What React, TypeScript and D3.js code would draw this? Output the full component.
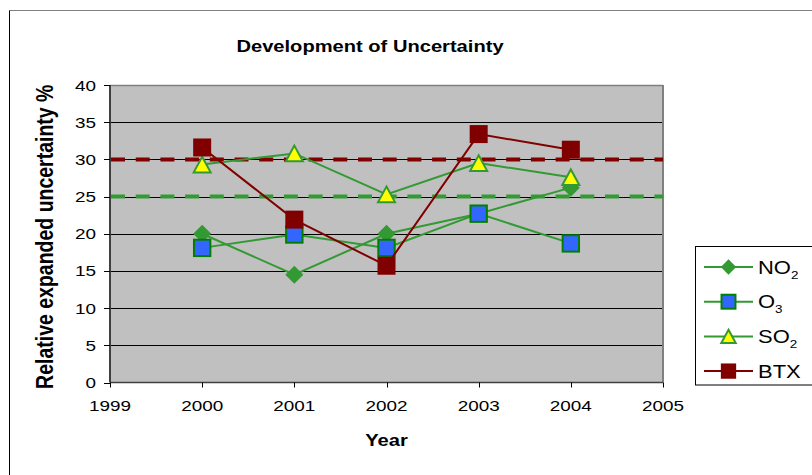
import React from "react";
import * as d3 from "d3";

const years = [2000, 2001, 2002, 2003, 2004];
const no2 = [20, 14.5, 20, 22.7, 26.2];
const o3 = [18.1, 19.9, 18.1, 22.7, 18.7];
const so2 = [29.3, 30.8, 25.3, 29.5, 27.6];
const btx = [31.6, 21.9, 15.7, 33.4, 31.3];
const limitBTX = 30;
const limitOther = 25;
const xTicks = [1999, 2000, 2001, 2002, 2003, 2004, 2005];
const yTicks = [0, 5, 10, 15, 20, 25, 30, 35, 40];

const GREEN = "#339933";
const DARKRED = "#800000";
const FONT = "'Liberation Sans', Arial, sans-serif";
const SX = 1.22;

type MarkerKind = "diamond" | "square" | "triangle" | "btx";

function Marker({ kind, x, y, s = 1 }: { kind: MarkerKind; x: number; y: number; s?: number }) {
  if (kind === "diamond") {
    const h = 9 * s;
    return <path d={`M${x},${y - h}L${x + h},${y}L${x},${y + h}L${x - h},${y}Z`} fill={GREEN} />;
  }
  if (kind === "square") {
    const h = 8.2 * s;
    return <rect x={x - h} y={y - h} width={2 * h} height={2 * h} fill="#3366FF" stroke="#008000" strokeWidth={2} />;
  }
  if (kind === "triangle") {
    const w = 8.5 * s;
    const hh = 7.8 * s;
    return (
      <path d={`M${x},${y - hh}L${x + w},${y + hh}L${x - w},${y + hh}Z`} fill="#FFFF00" stroke={GREEN} strokeWidth={2} strokeLinejoin="miter" />
    );
  }
  const h = 9 * s;
  return <rect x={x - h} y={y - h} width={2 * h} height={2 * h} fill={DARKRED} />;
}

function SText({ x, y, anchor = "start", size, bold = false, children }: any) {
  return (
    <text transform={`translate(${x},${y}) scale(${SX},1)`} textAnchor={anchor} fontSize={size} fontWeight={bold ? "bold" : "normal"}>
      {children}
    </text>
  );
}

const series = [
  { name: "NO", sub: "2", values: no2, color: GREEN, kind: "diamond" as MarkerKind },
  { name: "O", sub: "3", values: o3, color: GREEN, kind: "square" as MarkerKind },
  { name: "SO", sub: "2", values: so2, color: GREEN, kind: "triangle" as MarkerKind },
  { name: "BTX", sub: "", values: btx, color: DARKRED, kind: "btx" as MarkerKind },
];

export default function App() {
  const left = 110, right = 663, top = 85, bottom = 382.5;
  const x = d3.scaleLinear().domain([1999, 2005]).range([left, right]);
  const y = d3.scaleLinear().domain([0, 40]).range([bottom, top]);
  const line = d3.line<number>().x((_, i) => x(years[i])).y((v) => y(v));

  const legX = 695.5, legY = 246.5, rowH = 34.7, row0 = 267;

  return (
    <svg width={812} height={475} style={{ position: "absolute", left: 0, top: 0 }} fontFamily={FONT}>
      <rect x={0} y={0} width={812} height={475} fill="#fff" />
      {/* outer chart border */}
      <line x1={9.5} y1={10.5} x2={812} y2={10.5} stroke="#808080" strokeWidth={1} />
      <line x1={9.5} y1={10.5} x2={9.5} y2={475} stroke="#000" strokeWidth={1} />

      {/* title */}
      <SText x={370} y={52} anchor="middle" size={16.5} bold>Development of Uncertainty</SText>

      {/* plot area */}
      <rect x={left} y={top} width={right - left} height={bottom - top} fill="#C0C0C0" />
      {yTicks.filter((t) => t > 0 && t < 40).map((t) => (
        <line key={t} x1={left} x2={right} y1={Math.round(y(t)) + 0.5} y2={Math.round(y(t)) + 0.5} stroke="#000" strokeWidth={1} />
      ))}
      <line x1={left} x2={right} y1={top + 0.5} y2={top + 0.5} stroke="#808080" strokeWidth={1.5} />
      <line x1={right} x2={right} y1={top} y2={bottom} stroke="#808080" strokeWidth={2} />

      {/* limit lines */}
      <line x1={left + 1} x2={right} y1={y(limitBTX)} y2={y(limitBTX)} stroke={DARKRED} strokeWidth={4} strokeDasharray="14,10.7" />
      <line x1={left + 1} x2={right} y1={y(limitOther)} y2={y(limitOther)} stroke={GREEN} strokeWidth={4} strokeDasharray="14,10.7" />

      {/* axes */}
      <line x1={left} x2={left} y1={top} y2={bottom} stroke="#404040" strokeWidth={2} />
      <line x1={left} x2={right} y1={bottom} y2={bottom} stroke="#404040" strokeWidth={1.5} />
      {yTicks.map((t) => (
        <g key={t}>
          <line x1={left - 6} x2={left} y1={Math.round(y(t)) + 0.5} y2={Math.round(y(t)) + 0.5} stroke="#000" />
          <SText x={96} y={y(t) + 5.5} anchor="end" size={15.5}>{t}</SText>
        </g>
      ))}
      {xTicks.map((t) => (
        <g key={t}>
          <line x1={Math.round(x(t)) + 0.5} x2={Math.round(x(t)) + 0.5} y1={bottom} y2={bottom + 5} stroke="#000" />
          <SText x={x(t)} y={411} anchor="middle" size={15.5}>{t}</SText>
        </g>
      ))}
      <SText x={(left + right) / 2} y={446} anchor="middle" size={16.5} bold>Year</SText>
      <text transform={`translate(53,${(top + bottom) / 2 + 3}) scale(1.18,1) rotate(-90)`} textAnchor="middle" fontSize={19.5} fontWeight="bold">
        Relative expanded uncertainty %
      </text>

      {/* series */}
      {series.map((s) => (
        <g key={s.name + s.sub}>
          <path d={line(s.values) || ""} fill="none" stroke={s.color} strokeWidth={2} />
          {s.values.map((v, i) => (
            <Marker key={i} kind={s.kind} x={x(years[i])} y={y(v)} />
          ))}
        </g>
      ))}

      {/* legend */}
      <rect x={legX} y={legY} width={130} height={138.5} fill="#fff" stroke="#000" strokeWidth={1} />
      {series.map((s, i) => {
        const ry = row0 + i * rowH;
        return (
          <g key={"leg" + i}>
            <line x1={704} x2={753} y1={ry} y2={ry} stroke={s.color} strokeWidth={2} />
            <Marker kind={s.kind} x={728.5} y={ry} s={0.85} />
            <SText x={758} y={ry + 6.5} size={18}>
              {s.name}
              {s.sub && <tspan fontSize={11} dy={5}>{s.sub}</tspan>}
            </SText>
          </g>
        );
      })}
    </svg>
  );
}
